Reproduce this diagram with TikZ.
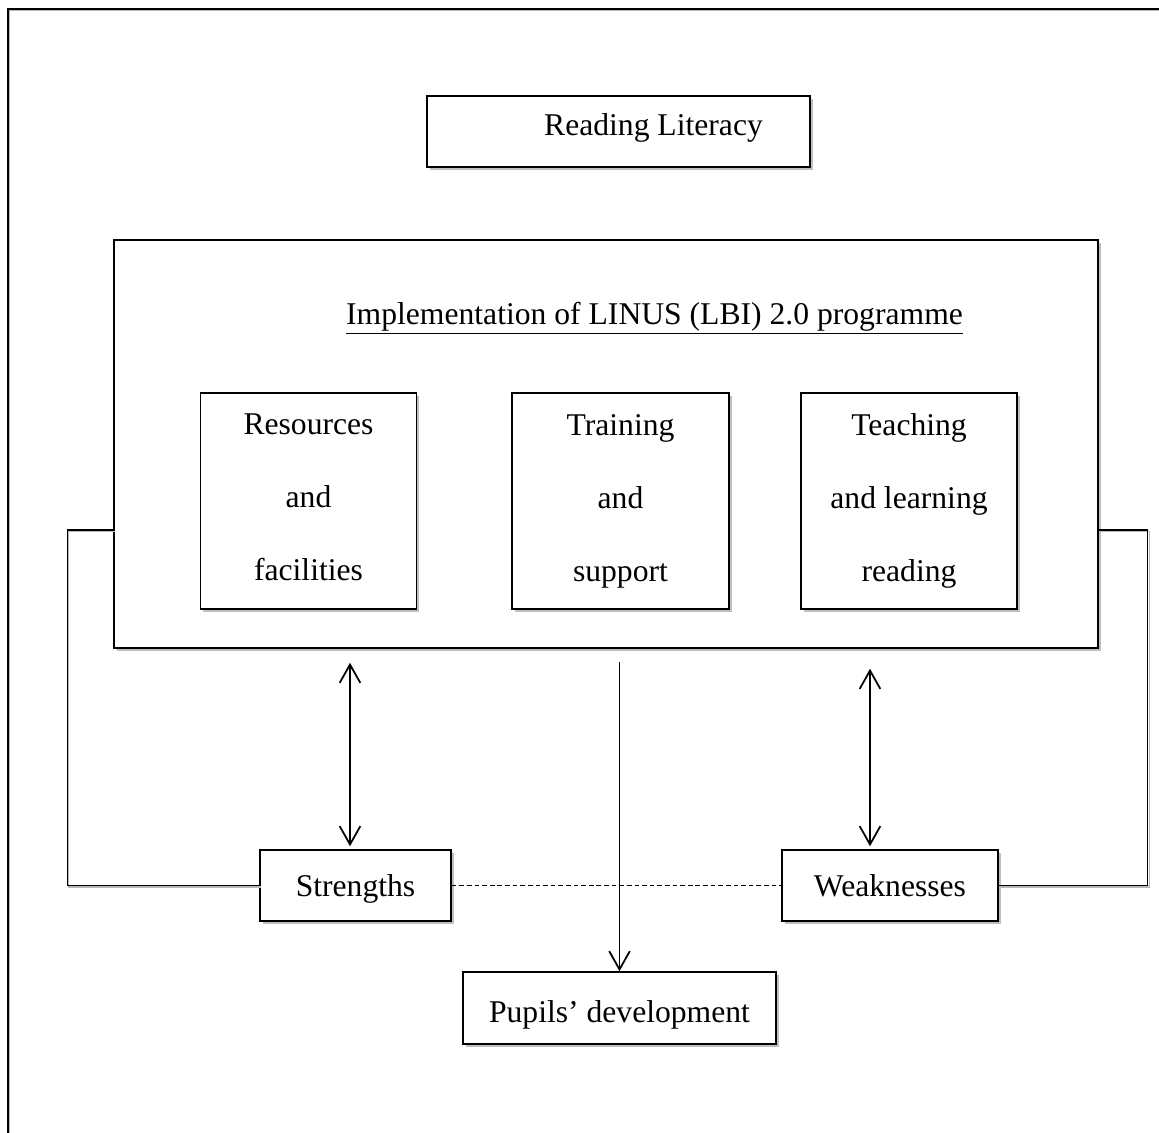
\documentclass[tikz,border=0pt]{standalone}
\usepackage{fontspec}
\setmainfont{Liberation Serif}
\usetikzlibrary{arrows.meta,shadows}

\tikzset{
  box/.style={draw, line width=1.3pt, fill=white, inner sep=0pt,
              drop shadow={shadow xshift=2.4pt, shadow yshift=-2.4pt, fill=black!25, opacity=1}},
  single/.style={text depth=5.4pt, text height=#1},
  link/.style={line width=0.9pt,
               preaction={draw=black!28, line width=1.1pt, transform canvas={shift={(1.3pt,-1.3pt)}}}},
  lbl/.style={font=\fontsize{27}{62.3}\selectfont}
}

\begin{document}
\begin{tikzpicture}[x=0.03cm, y=-0.03cm, >={Straight Barb[length=0.55cm,width=0.62cm]}, lbl]
  \useasboundingbox (0,0) rectangle (1159,1133);

  % page frame
  \draw[link] (8,1133) -- (8,9) -- (1159,9);

  \node[box, single=11.4pt, minimum width=11.49cm, minimum height=2.13cm] (lit) at (618.5,131.5) {\hspace*{2.1cm}Reading Literacy};

  \node[box, minimum width=29.52cm, minimum height=12.24cm] (main) at (606,444) {};
  \node (title) at (654.5,318) {\underline{Implementation of LINUS (LBI) 2.0 programme}};

  \node[box, minimum width=6.48cm, minimum height=6.48cm, align=center] (res) at (308.5,501) {Resources\\and\\facilities\vphantom{g}};
  \node[box, minimum width=6.51cm, minimum height=6.48cm, align=center] (trn) at (620.5,501) {Training\\and\\support};
  \node[box, minimum width=6.48cm, minimum height=6.48cm, align=center] (tch) at (909,501)   {Teaching\\and learning\\reading};

  \node[box, single=25pt, minimum width=5.73cm, minimum height=2.13cm] (str) at (355.5,885.5) {Strengths};
  \node[box, single=25pt, minimum width=6.48cm, minimum height=2.13cm] (wk)  at (890,885.5)   {Weaknesses};
  \node[box, single=29.3pt, minimum width=9.39cm, minimum height=2.16cm] (pup) at (619.5,1008) {Pupils’ development};

  \draw[<->, line width=1.5pt, shorten <=0.09cm, shorten >=0.42cm]
        ([xshift=-0.165cm]str.north) -- ([xshift=-0.165cm]str.north |- main.south);
  \draw[<->, line width=1.5pt, shorten <=0.09cm, shorten >=0.6cm]
        ([xshift=-0.6cm]wk.north) -- ([xshift=-0.6cm]wk.north |- main.south);
  \draw[->, line width=1.5pt, shorten <=0.39cm]
        (pup.north |- main.south) -- (pup.north);

  \draw[dashed, line width=1pt, dash pattern=on 4pt off 2.5pt] (str.east) -- (wk.west);

  \draw[link] ([yshift=-2.58cm]main.west) -- ++(-1.38cm,0) |- (str.west);
  \draw[link] ([yshift=-2.58cm]main.east) -- ++(1.47cm,0) |- (wk.east);
\end{tikzpicture}
\end{document}
